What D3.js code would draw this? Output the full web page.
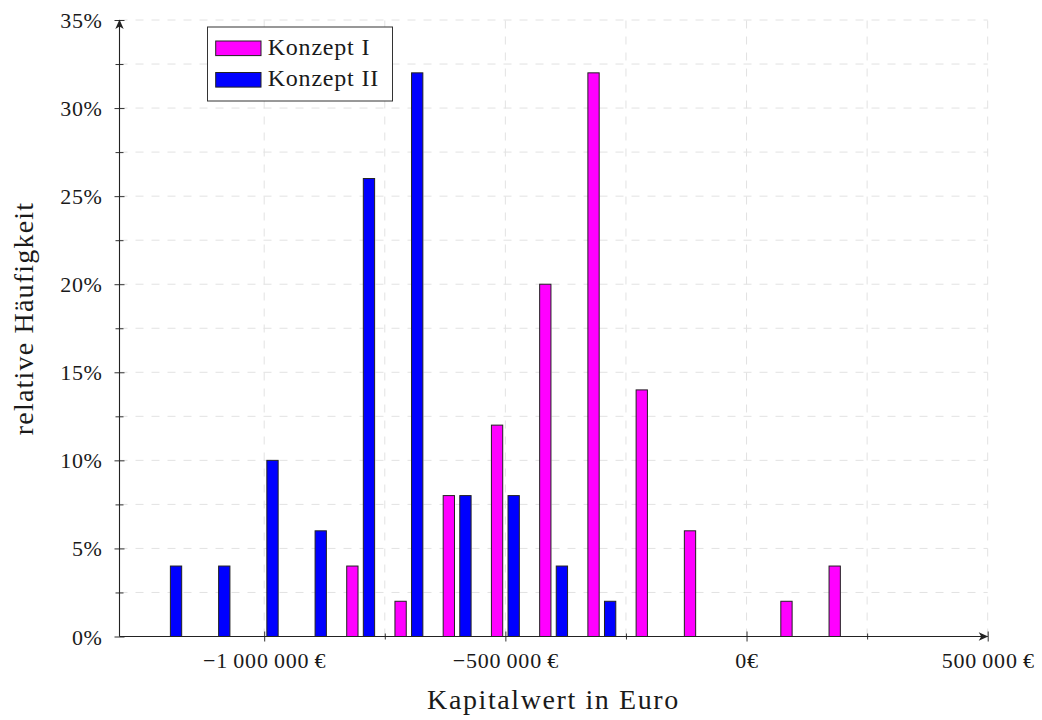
<!DOCTYPE html>
<html>
<head>
<meta charset="utf-8">
<script src="https://cdn.jsdelivr.net/npm/d3@7"></script>
<style>
  body { margin: 0; background: #ffffff; }
  text { font-family: "Liberation Serif", "Times New Roman", serif; fill: #1a1a1a; }
</style>
</head>
<body>
<svg id="chart" width="1042" height="720"></svg>
<script>
// Kapitalwert bins (Euro) and relative frequencies (%) per concept
const kapitalwerteI = [-800000, -700000, -600000, -500000, -400000, -300000, -200000, -100000, 100000, 200000];
const haeufigkeitI  = [4, 2, 8, 12, 20, 32, 14, 6, 2, 4];

const kapitalwerteII = [-1200000, -1100000, -1000000, -900000, -800000, -700000, -600000, -500000, -400000, -300000];
const haeufigkeitII  = [4, 4, 10, 6, 26, 32, 8, 8, 4, 2];

const seriesNames = ["Konzept I", "Konzept II"];

const xTickValues = [-1000000, -500000, 0, 500000];
const xTickLabels = ["\u22121\u2009000\u2009000\u2009\u20ac", "\u2212500\u2009000\u2009\u20ac", "0\u20ac", "500\u2009000\u2009\u20ac"];
const xMinorTicks = [-750000, -250000, 250000];

const yTickValues = [0, 5, 10, 15, 20, 25, 30, 35];
const yTickLabels = ["0%", "5%", "10%", "15%", "20%", "25%", "30%", "35%"];
const yMinorTicks = [2.5, 7.5, 12.5, 17.5, 22.5, 27.5, 32.5];

const xLabel = "Kapitalwert in Euro";
const yLabel = "relative H\u00e4ufigkeit";

const colorI = "#ff00ff";
const colorII = "#0000ff";

const svg = d3.select("#chart");

const x = d3.scaleLinear().domain([-1300000, 500000]).range([119.5, 987.7]);
const y = d3.scaleLinear().domain([0, 35]).range([636.5, 20]);

const barWidth = 11.3;
const barShift = 8.3;

// grid
const grid = svg.append("g").attr("stroke", "#e2e2e2").attr("stroke-width", 1).attr("stroke-dasharray", "8,8");
grid.selectAll("line.v")
  .data(xTickValues.concat(xMinorTicks))
  .join("line")
  .attr("x1", d => x(d)).attr("x2", d => x(d))
  .attr("y1", y(0)).attr("y2", y(35));
grid.selectAll("line.h")
  .data(yTickValues.slice(1).concat(yMinorTicks))
  .join("line")
  .attr("x1", x(-1300000)).attr("x2", x(500000))
  .attr("y1", d => y(d)).attr("y2", d => y(d));

// bars
const barsI = kapitalwerteI.map((k, i) => ({ k, v: haeufigkeitI[i] }));
const barsII = kapitalwerteII.map((k, i) => ({ k, v: haeufigkeitII[i] }));

svg.append("g").selectAll("rect")
  .data(barsI)
  .join("rect")
  .attr("x", d => x(d.k) - barShift - barWidth / 2)
  .attr("width", barWidth)
  .attr("y", d => y(d.v))
  .attr("height", d => y(0) - y(d.v))
  .attr("fill", colorI)
  .attr("stroke", "#222")
  .attr("stroke-width", 1);

svg.append("g").selectAll("rect")
  .data(barsII)
  .join("rect")
  .attr("x", d => x(d.k) + barShift - barWidth / 2)
  .attr("width", barWidth)
  .attr("y", d => y(d.v))
  .attr("height", d => y(0) - y(d.v))
  .attr("fill", colorII)
  .attr("stroke", "#222")
  .attr("stroke-width", 1);

// arrow marker for axis lines
svg.append("defs").append("marker")
  .attr("id", "arrow")
  .attr("viewBox", "-10 -5 12 10")
  .attr("refX", 0).attr("refY", 0)
  .attr("markerWidth", 12).attr("markerHeight", 10)
  .attr("markerUnits", "userSpaceOnUse")
  .attr("orient", "auto")
  .append("path")
  .attr("d", "M0.5,0 L-9,-4.2 L-6.5,0 L-9,4.2 Z")
  .attr("fill", "#222");

// x axis
const xAxisG = svg.append("g").attr("transform", `translate(0,${y(0)})`);
xAxisG.call(d3.axisBottom(x).tickValues(xTickValues).tickFormat((d, i) => xTickLabels[i]).tickSizeOuter(0));
xAxisG.select(".domain").remove();
xAxisG.selectAll(".tick line").attr("y1", -5).attr("y2", 5).attr("stroke", "#333");
xAxisG.selectAll(".tick text")
  .attr("y", 31.5).attr("dy", null)
  .attr("font-family", "Liberation Serif")
  .attr("font-size", 22).attr("letter-spacing", 0.8)
  .attr("fill", "#1a1a1a");

const xMinorG = svg.append("g").attr("transform", `translate(0,${y(0)})`);
xMinorG.call(d3.axisBottom(x).tickValues(xMinorTicks).tickFormat("").tickSizeOuter(0));
xMinorG.select(".domain").remove();
xMinorG.selectAll(".tick line").attr("y1", -3).attr("y2", 3).attr("stroke", "#333");

// y axis
const yAxisG = svg.append("g").attr("transform", `translate(${x(-1300000)},0)`);
yAxisG.call(d3.axisLeft(y).tickValues(yTickValues).tickFormat((d, i) => yTickLabels[i]).tickSizeOuter(0));
yAxisG.select(".domain").remove();
yAxisG.selectAll(".tick line").attr("x1", -5).attr("x2", 5).attr("stroke", "#333");
yAxisG.selectAll(".tick text")
  .attr("x", -17).attr("dy", null).attr("y", 7.5)
  .attr("font-family", "Liberation Serif")
  .attr("font-size", 22).attr("letter-spacing", 0.6)
  .attr("fill", "#1a1a1a");

const yMinorG = svg.append("g").attr("transform", `translate(${x(-1300000)},0)`);
yMinorG.call(d3.axisLeft(y).tickValues(yMinorTicks).tickFormat("").tickSizeOuter(0));
yMinorG.select(".domain").remove();
yMinorG.selectAll(".tick line").attr("x1", -4).attr("x2", 4).attr("stroke", "#333");

// axis lines with arrows
svg.append("line")
  .attr("x1", x(-1300000)).attr("x2", x(500000))
  .attr("y1", y(0)).attr("y2", y(0))
  .attr("stroke", "#222").attr("stroke-width", 1.1)
  .attr("marker-end", "url(#arrow)");
svg.append("line")
  .attr("x1", x(-1300000)).attr("x2", x(-1300000))
  .attr("y1", y(0)).attr("y2", y(35))
  .attr("stroke", "#222").attr("stroke-width", 1.1)
  .attr("marker-end", "url(#arrow)");

// axis titles
svg.append("text")
  .attr("x", 553.5).attr("y", 709)
  .attr("text-anchor", "middle")
  .attr("font-size", 28).attr("letter-spacing", 1.6)
  .text(xLabel);
svg.append("text")
  .attr("transform", "translate(33,318.5) rotate(-90)")
  .attr("text-anchor", "middle")
  .attr("font-size", 28).attr("letter-spacing", 1.2)
  .text(yLabel);

// legend
const legend = svg.append("g");
legend.append("rect")
  .attr("x", 207.5).attr("y", 27).attr("width", 185).attr("height", 74)
  .attr("fill", "#ffffff").attr("stroke", "#333").attr("stroke-width", 1);
const legendItems = [
  { name: seriesNames[0], color: colorI, y: 41 },
  { name: seriesNames[1], color: colorII, y: 72.5 }
];
legend.selectAll("rect.sw")
  .data(legendItems)
  .join("rect")
  .attr("class", "sw")
  .attr("x", 215.7).attr("y", d => d.y)
  .attr("width", 45.3).attr("height", 14.6)
  .attr("fill", d => d.color)
  .attr("stroke", "#222").attr("stroke-width", 1);
legend.selectAll("text")
  .data(legendItems)
  .join("text")
  .attr("x", 267.7).attr("y", d => d.y + 13.5)
  .attr("font-size", 24).attr("letter-spacing", 0.8)
  .text(d => d.name);
</script>
</body>
</html>
